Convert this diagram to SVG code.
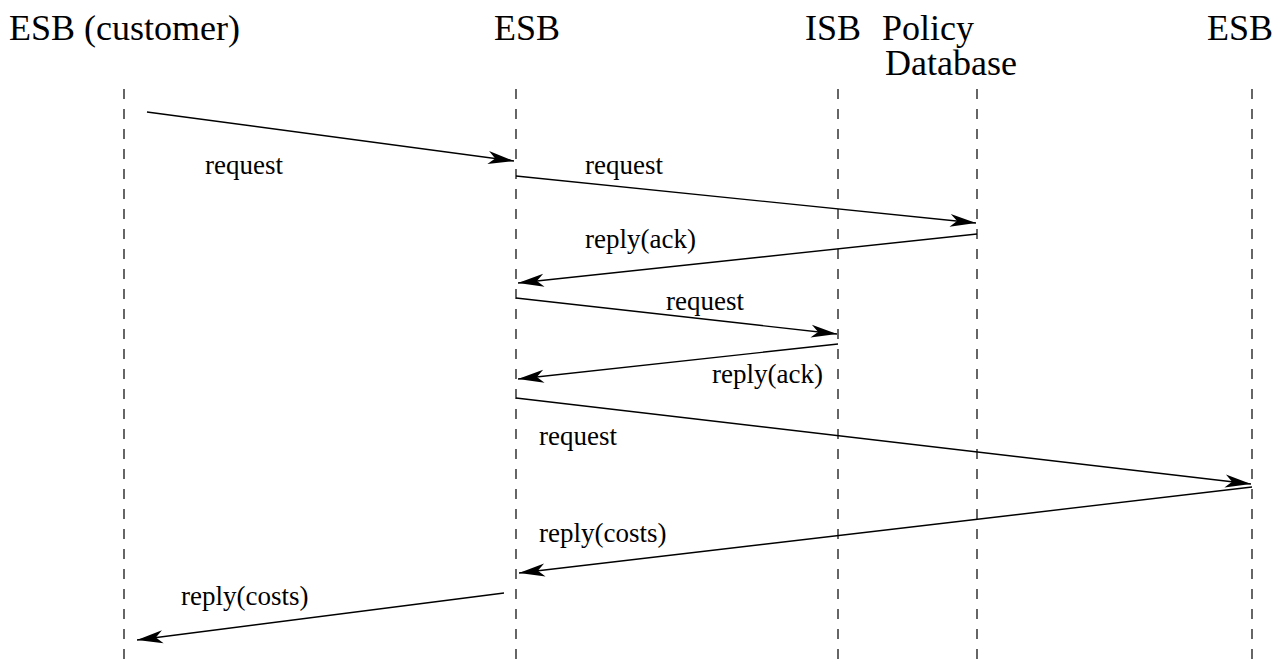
<svg xmlns="http://www.w3.org/2000/svg" width="1285" height="666" viewBox="0 0 1285 666">
<style>
.hdr{font-family:"Liberation Serif","Times New Roman",serif;font-size:36px;fill:#000}
.lbl{font-family:"Liberation Serif","Times New Roman",serif;font-size:27px;fill:#000}
.life{stroke:#000;stroke-width:1.2;stroke-dasharray:10 10;fill:none}
.msg{stroke:#000;stroke-width:1.4;fill:none;marker-end:url(#ah)}
</style>
<defs>
<marker id="ah" markerUnits="userSpaceOnUse" viewBox="-28 -8 30 16" refX="0" refY="0" markerWidth="30" markerHeight="16" orient="auto">
<path d="M0,0 L-26,-6.5 L-19,0 L-26,6.5 Z" fill="#000"/>
</marker>
</defs>
<rect width="1285" height="666" fill="#fff"/>
<g id="node-esb-customer">
<text class="hdr" x="9" y="40">ESB (customer)</text>
<line class="life" x1="124" y1="89" x2="124" y2="666"/>
</g>
<g id="node-esb">
<text class="hdr" x="494" y="40">ESB</text>
<line class="life" x1="516" y1="89" x2="516" y2="666"/>
</g>
<g id="node-isb">
<text class="hdr" x="805" y="40">ISB</text>
<line class="life" x1="838" y1="89" x2="838" y2="666"/>
</g>
<g id="node-policy-database">
<text class="hdr" x="882" y="40">Policy</text>
<text class="hdr" x="885" y="75">Database</text>
<line class="life" x1="977" y1="89" x2="977" y2="666"/>
</g>
<g id="node-esb-right">
<text class="hdr" x="1207" y="40">ESB</text>
<line class="life" x1="1252" y1="89" x2="1252" y2="666"/>
</g>
<g id="connectors">
<line class="msg" x1="147" y1="112" x2="514" y2="161"/>
<line class="msg" x1="516" y1="176" x2="976" y2="223"/>
<line class="msg" x1="977" y1="234" x2="518" y2="283"/>
<line class="msg" x1="516" y1="298" x2="837" y2="334"/>
<line class="msg" x1="838" y1="344" x2="518" y2="379"/>
<line class="msg" x1="516" y1="398" x2="1251" y2="484"/>
<line class="msg" x1="1252" y1="487" x2="519" y2="573"/>
<line class="msg" x1="504" y1="593" x2="137" y2="640"/>
<text class="lbl" x="205" y="174">request</text>
<text class="lbl" x="585" y="174">request</text>
<text class="lbl" x="585" y="248">reply(ack)</text>
<text class="lbl" x="666" y="310">request</text>
<text class="lbl" x="712" y="383">reply(ack)</text>
<text class="lbl" x="539" y="445">request</text>
<text class="lbl" x="539" y="542">reply(costs)</text>
<text class="lbl" x="181" y="605">reply(costs)</text>
</g>
</svg>
